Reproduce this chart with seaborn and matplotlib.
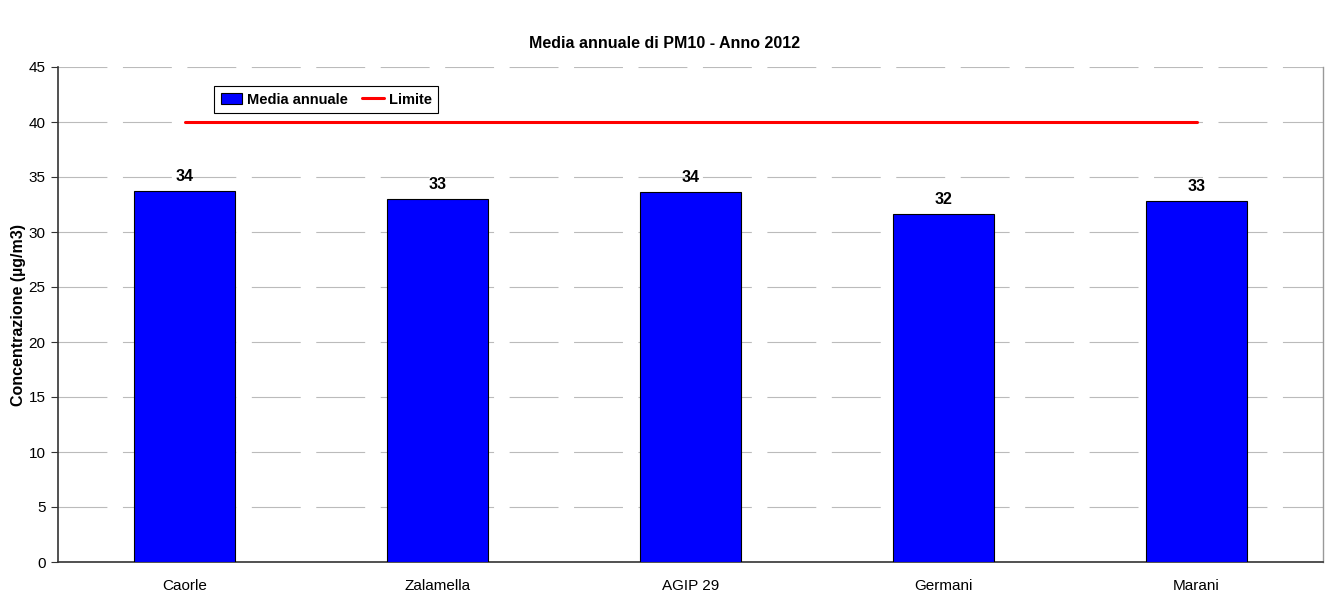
import numpy as np
import pandas as pd
import matplotlib
matplotlib.use("Agg")
import matplotlib.pyplot as plt
import seaborn as sns
from matplotlib.lines import Line2D
from matplotlib.patches import Patch

stations = ["Caorle", "Zalamella", "AGIP 29", "Germani", "Marani"]
media_annuale = [33.7, 33.0, 33.6, 31.6, 32.8]
limite = [40, 40, 40, 40, 40]
title = "Media annuale di PM10 - Anno 2012"
ylabel = "Concentrazione (µg/m3)"

sns.set_theme(style="white")
plt.rcParams["font.family"] = ["Liberation Sans", "DejaVu Sans"]
plt.rcParams["text.color"] = "black"
plt.rcParams["axes.labelcolor"] = "black"
plt.rcParams["xtick.color"] = "black"
plt.rcParams["ytick.color"] = "black"

fig = plt.figure(figsize=(13.3, 5.94), dpi=100)
ax = fig.add_axes([58/1330, 32/594, 1265/1330, 495/594])

df = pd.DataFrame({"Stazione": stations, "Media": media_annuale})
sns.barplot(data=df, x="Stazione", y="Media", color="#0000FF", saturation=1,
            edgecolor="black", linewidth=0.8, width=0.4, ax=ax, zorder=3)
sns.lineplot(x=np.arange(len(stations)), y=limite, color="#FF0000", linewidth=2.2,
             ax=ax, zorder=4)

for i, v in enumerate(media_annuale):
    ax.annotate(f"{v:.0f}", (i, v), xytext=(0, 5), textcoords="offset points",
                ha="center", va="bottom", fontsize=11.5, fontweight="bold",
                color="black", zorder=5)

ax.set_xlim(-0.5, len(stations) - 0.5)
ax.set_ylim(0, 45)
ax.set_yticks(np.arange(0, 46, 5))
ax.yaxis.grid(True, color="#BBBBBB", linewidth=0.8, linestyle=(0, (44, 14)), zorder=0)
ax.xaxis.grid(False)

ax.set_xticks(np.arange(-0.5, len(stations)), minor=True)
ax.tick_params(axis="x", which="major", length=0, labelsize=11, pad=12, labelcolor="black")
ax.tick_params(axis="x", which="minor", length=5, width=0.8, color="#333333", direction="out")
ax.tick_params(axis="y", length=5, width=0.8, color="#333333", direction="out",
               labelsize=11, left=True, labelcolor="black", pad=4)

ax.set_xlabel("")
ax.set_ylabel(ylabel, fontsize=11.5, fontweight="bold", labelpad=2, color="black")

for s in ["left", "bottom"]:
    ax.spines[s].set_color("#333333")
    ax.spines[s].set_linewidth(1.2)
ax.spines["right"].set_color("#999999")
ax.spines["right"].set_linewidth(1.0)
ax.spines["top"].set_visible(False)

fig.suptitle(title, fontsize=11.5, fontweight="bold", y=1 - 43/594, va="center",
             color="black")

handles = [Patch(facecolor="#0000FF", edgecolor="black", linewidth=0.8),
           Line2D([0], [0], color="#FF0000", linewidth=2.2)]
leg = ax.legend(handles, ["Media annuale", "Limite"], loc="upper left",
                bbox_to_anchor=(156/1265, (562-86)/495), ncol=2, frameon=True,
                fancybox=False, edgecolor="black", framealpha=1,
                prop={"weight": "bold", "size": 10.5}, handlelength=1.5,
                handletextpad=0.3, columnspacing=1.0, borderpad=0.45,
                borderaxespad=0)
leg.get_frame().set_linewidth(0.8)

fig.savefig("out.png", dpi=100)
